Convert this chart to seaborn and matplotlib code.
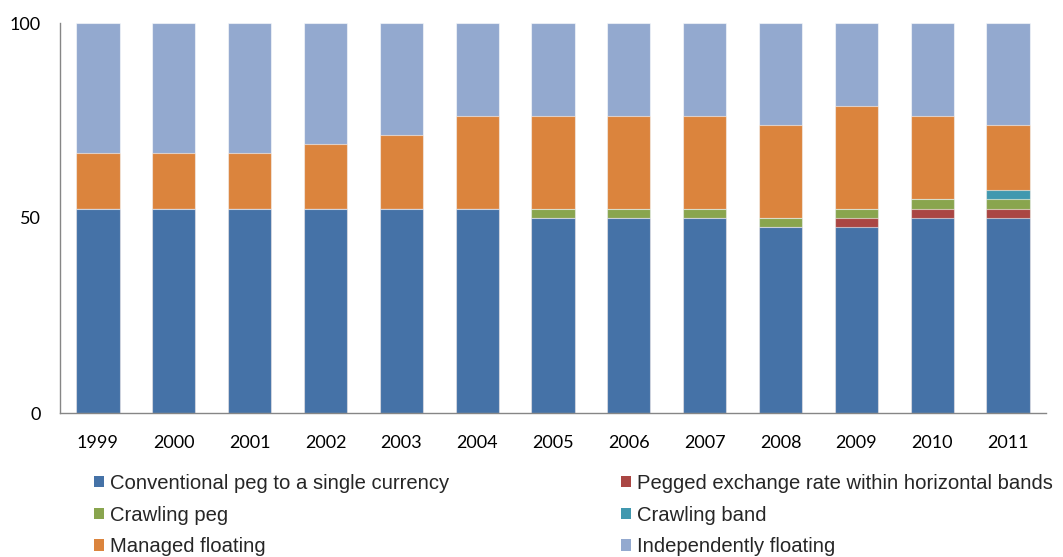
import matplotlib
matplotlib.use("Agg")
import matplotlib.pyplot as plt
from matplotlib.patches import Patch
import seaborn as sns
import numpy as np

years = ["1999", "2000", "2001", "2002", "2003", "2004", "2005",
         "2006", "2007", "2008", "2009", "2010", "2011"]

conventional_peg = [52.4, 52.4, 52.4, 52.4, 52.4, 52.4, 50.0, 50.0, 50.0, 47.6, 47.6, 50.0, 50.0]
pegged_bands     = [0, 0, 0, 0, 0, 0, 0, 0, 0, 0, 2.4, 2.4, 2.4]
crawling_peg     = [0, 0, 0, 0, 0, 0, 2.4, 2.4, 2.4, 2.4, 2.4, 2.4, 2.4]
crawling_band    = [0, 0, 0, 0, 0, 0, 0, 0, 0, 0, 0, 0, 2.4]
managed_floating = [14.3, 14.3, 14.3, 16.7, 19.0, 23.8, 23.8, 23.8, 23.8, 23.8, 26.2, 21.4, 16.7]
indep_floating   = [33.3, 33.3, 33.3, 31.0, 28.6, 23.8, 23.8, 23.8, 23.8, 26.2, 21.4, 23.8, 26.2]

labels = ["Conventional peg to a single currency",
          "Pegged exchange rate within horizontal bands",
          "Crawling peg",
          "Crawling band",
          "Managed floating",
          "Independently floating"]
colors = ["#4572A7", "#AA4643", "#89A54E", "#4198AF", "#DB843D", "#93A9CF"]
series = [conventional_peg, pegged_bands, crawling_peg, crawling_band,
          managed_floating, indep_floating]

sns.set_theme(style="white")
plt.rcParams["font.family"] = ["Liberation Sans", "DejaVu Sans"]

fig = plt.figure(figsize=(10.63, 5.57), dpi=100)
ax = fig.add_axes([60 / 1063, (557 - 413) / 557, (1046 - 60) / 1063, (413 - 23) / 557])

cum = np.cumsum(np.array(series, dtype=float), axis=0)
for i in range(len(series) - 1, -1, -1):
    sns.barplot(x=years, y=cum[i], order=years, color=colors[i], saturation=1,
                width=0.57, edgecolor=(1, 1, 1, 0.55), linewidth=0.8, ax=ax)

ax.set_ylim(0, 100)
ax.set_xlim(-0.5, len(years) - 0.5)
ax.set_yticks([0, 50, 100])
ax.set_xlabel("")
ax.set_ylabel("")
for s in ["top", "right"]:
    ax.spines[s].set_visible(False)
for s in ["left", "bottom"]:
    ax.spines[s].set_color("#868686")
    ax.spines[s].set_linewidth(1.0)
ax.tick_params(axis="y", length=0, pad=14, labelsize=13, labelcolor="black")
ax.tick_params(axis="x", length=0, pad=16, labelsize=13, labelcolor="black")
for t in ax.get_xticklabels() + ax.get_yticklabels():
    t.set_fontfamily(["Lato", "DejaVu Sans"])

order = [0, 2, 4, 1, 3, 5]
handles = [Patch(facecolor=colors[i], edgecolor="none") for i in order]
leg_labels = [labels[i] for i in order]
fig.legend(handles, leg_labels, ncol=2, loc="upper left",
           bbox_to_anchor=(94 / 1063, 1 - 474 / 557), frameon=False,
           fontsize=14.6, handlelength=0.47, handleheight=0.47,
           handletextpad=0.3, columnspacing=8.5, labelspacing=0.62,
           borderaxespad=0, borderpad=0)

fig.savefig("out.png", dpi=100)
